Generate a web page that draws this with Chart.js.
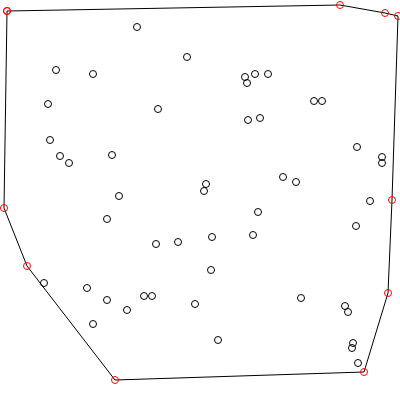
<!DOCTYPE html>
<html>
<head>
<meta charset="utf-8">
<script src="https://cdn.jsdelivr.net/npm/chart.js@4"></script>
<style>
html,body{margin:0;padding:0;background:#fff;}
#wrap{width:400px;height:400px;}
</style>
</head>
<body>
<div id="wrap"><canvas id="c" width="400" height="400"></canvas></div>
<script>
// Interior points (x, y in picture units, y downward)
const pointX = [137,187,56,93,48,158,50,60,69,112,119,
  245,247,255,268,314,322,248,260,357,382,382,206,204,283,296,370,
  44,107,156,178,87,107,127,144,152,195,93,
  258,212,253,356,211,301,345,348,218,353,352,358];
const pointY = [27,57,70,74,104,109,140,156,163,155,196,
  77,83,74,74,101,101,120,118,147,157,163,184,191,177,182,201,
  283,219,244,242,288,300,310,296,296,304,324,
  212,237,235,226,270,298,306,312,340,343,348,363];
// Convex hull vertices, in order
const hullX = [7,340,385,398,392,388,364,115,27,4];
const hullY = [11,5,13,16,200,293,372,380,266,208];

const pts = pointX.map((x,i)=>({x:x,y:pointY[i]}));
const hull = hullX.map((x,i)=>({x:x,y:hullY[i]}));
hull.push({x:hullX[0],y:hullY[0]});

new Chart(document.getElementById('c'),{
  type:'scatter',
  data:{datasets:[
    {label:'hull',data:hull,showLine:true,borderColor:'#000',borderWidth:1,
     pointRadius:3.5,pointBorderColor:'#ff0000',pointBackgroundColor:'rgba(0,0,0,0)',pointBorderWidth:1,
     tension:0,order:1,clip:false},
    {label:'points',data:pts,pointRadius:3.5,pointBorderColor:'#000',pointBackgroundColor:'rgba(0,0,0,0)',
     pointBorderWidth:1,order:2,clip:false}
  ]},
  options:{
    responsive:false,animation:false,
    layout:{padding:0,autoPadding:false},
    plugins:{legend:{display:false},tooltip:{enabled:false}},
    scales:{
      x:{type:'linear',min:0,max:400,display:false},
      y:{type:'linear',min:0,max:400,reverse:true,display:false}
    }
  }
});
</script>
</body>
</html>
